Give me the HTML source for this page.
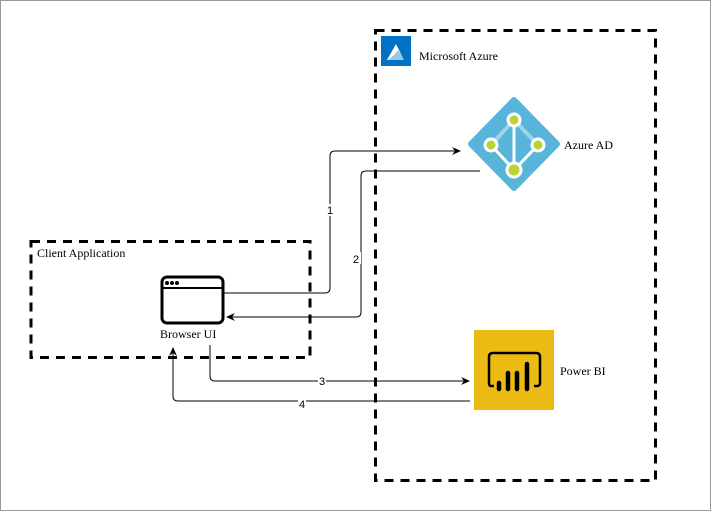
<!DOCTYPE html>
<html><head><style>
body{margin:0;background:#fff}
svg{display:block}
text{font-family:"Liberation Serif",serif;font-size:12px;fill:#000}
.l{font-family:"Liberation Sans",sans-serif;font-size:11px}
</style></head><body>
<svg width="711" height="511" viewBox="0 0 711 511">
<defs><marker id="a" markerWidth="10" markerHeight="10" refX="8" refY="4" orient="auto" markerUnits="userSpaceOnUse"><path d="M0,0 L9,4 L0,8 L3,4z" fill="#000"/></marker></defs>
<rect x="0.5" y="0.5" width="710" height="510" fill="none" stroke="#999"/>
<rect x="375.5" y="30.5" width="280" height="450" fill="none" stroke="#000" stroke-width="3" stroke-dasharray="9,7"/>
<rect x="31" y="241.5" width="279" height="116" fill="none" stroke="#000" stroke-width="3" stroke-dasharray="9,7"/>
<text x="37" y="257">Client Application</text>
<rect x="381" y="36" width="30" height="30" fill="#0072C6"/>
<path d="M387,60 L396,44 L404,60 Z" fill="#fff"/><path d="M393,56 L398,50 L405,60 L388,60z" fill="#0072C6" opacity="0.4"/>
<text x="419" y="60">Microsoft Azure</text>
<path d="M514,100 L557,144 L514,188 L471,144 Z" fill="#59B4D9" stroke="#59B4D9" stroke-width="6" stroke-linejoin="round"/>
<path d="M514,120 L491,145 M514,120 L538,145" stroke="#9FD3EA" stroke-width="4"/>
<path d="M514,120 L514,170 M491,145 L514,170 L538,145" stroke="#fff" stroke-width="3" fill="none"/>
<g fill="#B8D432" stroke="#fff" stroke-width="3"><circle cx="514" cy="120" r="6"/><circle cx="491" cy="145" r="6"/><circle cx="538" cy="145" r="6"/><circle cx="514" cy="170" r="7"/></g>
<text x="564" y="149">Azure AD</text>
<rect x="474" y="330" width="80" height="80" fill="#EBBB14"/>
<path d="M494,386 L491,386 Q489,386 489,383 L489,357 Q489,353 493,353 L536,353 Q540,353 540,357 L540,383 Q540,386 537,386 L534,386" fill="none" stroke="#000" stroke-width="2.5"/>
<g stroke="#000" stroke-width="4.5" stroke-linecap="round"><path d="M499,383 L499,389 M508,373 L508,389 M517,373 L517,389 M527,364 L527,389"/></g>
<text x="560" y="375">Power BI</text>
<rect x="162" y="277" width="61" height="46" rx="5" fill="#fff" stroke="#000" stroke-width="3"/>
<line x1="162" y1="288" x2="223" y2="288" stroke="#000" stroke-width="2"/>
<circle cx="167" cy="283" r="2" fill="#000"/><circle cx="172" cy="283" r="2" fill="#000"/><circle cx="177" cy="283" r="2" fill="#000"/>
<text x="160" y="338">Browser UI</text>
<g fill="none" stroke="#000" stroke-width="1">
<path d="M224,293 L325,293 Q330,293 330,288 L330,156 Q330,151 335,151 L460,151" marker-end="url(#a)"/>
<path d="M480,171 L366,171 Q361,171 361,176 L361,312 Q361,317 356,317 L227,317" marker-end="url(#a)"/>
<path d="M210,345 L210,376 Q210,381 215,381 L469,381" marker-end="url(#a)"/>
<path d="M470,401 L178,401 Q173,401 173,396 L173,348" marker-end="url(#a)"/>
</g>
<rect x="326" y="204" width="8" height="12" fill="#fff"/><text class="l" x="327" y="214">1</text>
<rect x="353" y="252" width="8" height="12" fill="#fff"/><text class="l" x="353" y="263">2</text>
<rect x="318" y="375" width="8" height="12" fill="#fff"/><text class="l" x="319" y="385">3</text>
<rect x="298" y="397" width="8" height="12" fill="#fff"/><text class="l" x="299" y="408">4</text>
</svg>
</body></html>
